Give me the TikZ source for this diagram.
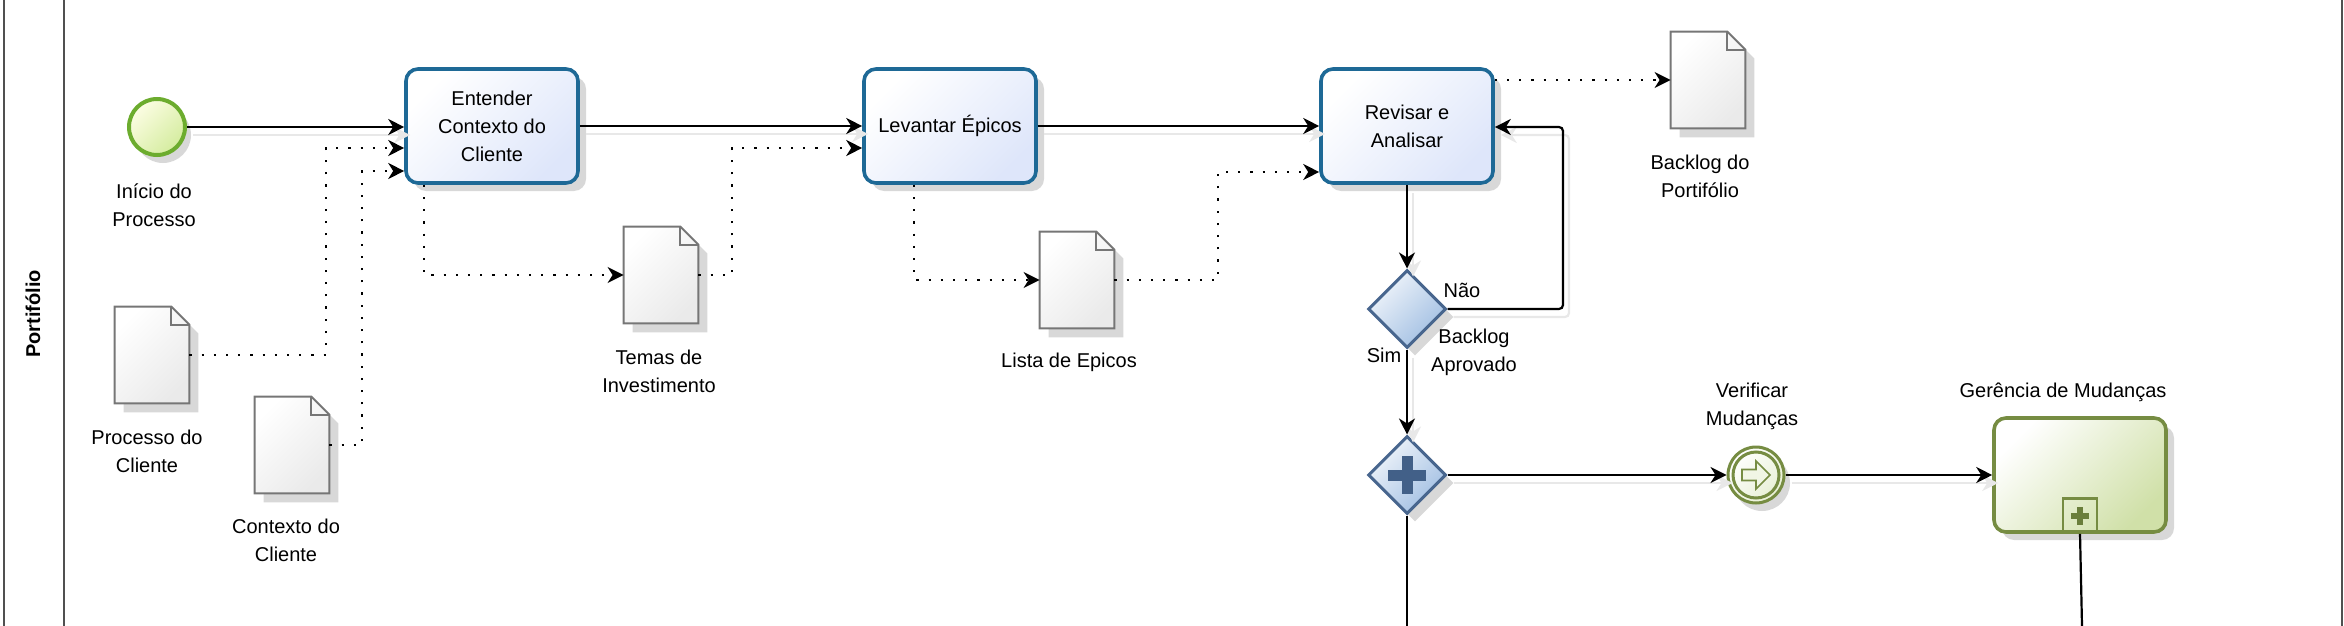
\documentclass[tikz,border=0pt]{standalone}
\usepackage{fontspec}
\setmainfont{Liberation Sans}
\usepackage{tikz}
\usetikzlibrary{arrows.meta}
\usetikzlibrary{positioning}
\usetikzlibrary{shapes.geometric}
\usetikzlibrary{shadows}

\definecolor{taskblue}{RGB}{30,105,150}
\definecolor{taskfill}{RGB}{222,230,250}
\definecolor{startgreen}{RGB}{108,172,46}
\definecolor{startfill}{RGB}{212,236,158}
\definecolor{startpale}{RGB}{252,253,228}
\definecolor{gateblue}{RGB}{72,102,142}
\definecolor{gatefill}{RGB}{160,190,226}
\definecolor{plusblue}{RGB}{66,96,136}
\definecolor{subgreen}{RGB}{118,140,66}
\definecolor{subfill}{RGB}{208,224,168}
\definecolor{docgray}{RGB}{118,118,118}
\definecolor{docfill}{RGB}{234,234,234}
\definecolor{shadowgray}{RGB}{216,216,216}
\definecolor{lanegray}{RGB}{80,80,80}

\tikzset{
  task/.style={draw=taskblue, line width=1.8pt, rounded corners=6pt, minimum width=86pt, minimum height=57pt, align=center, inner sep=2pt, top color=white, bottom color=taskfill, shading angle=45, drop shadow={shadow xshift=4pt, shadow yshift=-4pt, fill=shadowgray, opacity=1}},
  subproc/.style={draw=subgreen, line width=1.8pt, rounded corners=6pt, minimum width=86pt, minimum height=57pt, top color=white, bottom color=subfill, shading angle=45, drop shadow={shadow xshift=4pt, shadow yshift=-4pt, fill=shadowgray, opacity=1}},
  startev/.style={circle, draw=startgreen, line width=2pt, minimum size=28pt, inner sep=0, top color=startpale, bottom color=startfill, shading angle=45, drop shadow={shadow xshift=3pt, shadow yshift=-4pt, fill=shadowgray, opacity=1}},
  inter/.style={circle, draw=subgreen, line width=1.5pt, minimum size=28pt, inner sep=0, top color=white, bottom color=subfill!50!white, shading angle=45, drop shadow={shadow xshift=3pt, shadow yshift=-4pt, fill=shadowgray, opacity=1}},
  gate/.style={diamond, draw=gateblue, line width=1.5pt, minimum width=39pt, minimum height=39pt, inner sep=0, top color=white!85!gatefill, bottom color=gatefill, shading angle=45, drop shadow={shadow xshift=4pt, shadow yshift=-4pt, fill=shadowgray, opacity=1}},
  docum/.style={minimum width=37pt, minimum height=48pt, inner sep=0},
  lbl/.style={align=center, inner sep=0},
  flow/.style={->, line width=1.1pt, preaction={draw=black!9, line width=1.1pt, transform canvas={shift={(3pt,-4pt)}}}},
  assoc/.style={->, line width=1.1pt, dash pattern=on 1.1pt off 5pt}
}

\begin{document}
\begin{tikzpicture}[x=0.5pt, y=-0.5pt, >={Stealth[length=8pt, width=8pt, inset=2.5pt]}, font=\fontsize{10}{14}\selectfont]
    \useasboundingbox (0,0) rectangle (2344,626);

    \draw[lanegray, line width=1pt] (4,0) -- (4,626);
    \draw[lanegray, line width=1pt] (64,0) -- (64,626);
    \draw[lanegray, line width=1pt] (2342,0) -- (2342,626);
    \node[rotate=90, font=\fontsize{10}{14}\selectfont\bfseries] (lane) at (33,314) {Portifólio};

    \node[startev] (start) at (157,127) {};
    \node[task] (entender) at (492,126) {Entender\\Contexto do\\Cliente};
    \node[task] (levantar) at (950,126) {Levantar Épicos};
    \node[task] (revisar) at (1407,126) {Revisar e\\Analisar};
    \node[gate] (aprovado) at (1407,309) {};
    \node[gate] (paralelo) at (1407,475) {};
    \node[inter] (verificar) at (1756,475) {};
    \node[subproc] (gerencia) at (2080,475) {};

    \node[docum] (processo) at (152,355) {};
    \node[docum] (contexto) at (292,445) {};
    \node[docum] (temas) at (661,275) {};
    \node[docum] (lista) at (1077,280) {};
    \node[docum] (backlog) at (1708,80) {};

    \foreach \d in {processo,contexto,temas,lista,backlog} {
        \fill[shadowgray, transform canvas={shift={(4.5pt,-4.5pt)}}] (\d.south west) -- (\d.north west) -- ([xshift=-9pt]\d.north east) -- ([yshift=-9pt]\d.north east) -- (\d.south east) -- cycle;
        \shade[draw=docgray, line width=1pt, top color=white, bottom color=docfill, shading angle=45] (\d.south west) -- (\d.north west) -- ([xshift=-9pt]\d.north east) -- ([yshift=-9pt]\d.north east) -- (\d.south east) -- cycle;
        \draw[docgray, line width=1pt] ([xshift=-9pt]\d.north east) |- ([yshift=-9pt]\d.north east);
    }

    \fill[plusblue] ([shift={(-9.5pt,-2.75pt)}]paralelo.center) rectangle ([shift={(9.5pt,2.75pt)}]paralelo.center);
    \fill[plusblue] ([shift={(-2.75pt,-9.5pt)}]paralelo.center) rectangle ([shift={(2.75pt,9.5pt)}]paralelo.center);

    \draw[subgreen, line width=1.5pt] (verificar) circle[radius=11.5pt];
    \draw[subgreen, line width=0.8pt, fill=white!70!subfill] ([shift={(-7pt,-2.75pt)}]verificar.center) -- ([shift={(0pt,-2.75pt)}]verificar.center) -- ([shift={(0pt,-7pt)}]verificar.center) -- ([shift={(7pt,0pt)}]verificar.center) -- ([shift={(0pt,7pt)}]verificar.center) -- ([shift={(0pt,2.75pt)}]verificar.center) -- ([shift={(-7pt,2.75pt)}]verificar.center) -- cycle;

    \node[draw=subgreen, line width=1.3pt, minimum size=17pt, inner sep=0, anchor=south] (marcador) at (gerencia.south) {};
    \fill[subgreen!90!black] ([shift={(-4.5pt,-1.5pt)}]marcador.center) rectangle ([shift={(4.5pt,1.5pt)}]marcador.center);
    \fill[subgreen!90!black] ([shift={(-1.5pt,-4.5pt)}]marcador.center) rectangle ([shift={(1.5pt,4.5pt)}]marcador.center);

    \node[lbl] (startlbl) at (154,205) {Início do\\Processo};
    \node[lbl] (processolbl) at (147,451) {Processo do\\Cliente};
    \node[lbl] (contextolbl) at (286,540) {Contexto do\\Cliente};
    \node[lbl] (temaslbl) at (659,371) {Temas de\\Investimento};
    \node[lbl] (listalbl) at (1069,362) {Lista de Epicos};
    \node[lbl] (backloglbl) at (1700,176) {Backlog do\\Portifólio};
    \node[lbl] (naolbl) at (1462,290) {Não};
    \node[lbl] (aprovadolbl) at (1474,352) {Backlog\\Aprovado};
    \node[lbl] (simlbl) at (1384,355) {Sim};
    \node[lbl] (verificarlbl) at (1752,406) {Verificar\\Mudanças};
    \node[lbl] (gerencialbl) at (2063,392) {Gerência de Mudanças};

    \coordinate (volta) at (1563,127);
    \coordinate (fim1) at (1407,626);
    \coordinate (fim2) at (2082,626);
    \coordinate (c1) at (326,148);
    \coordinate (c2) at (362,171);
    \coordinate (c3) at (424,275);
    \coordinate (c4) at (732,148);
    \coordinate (c5) at (914,280);
    \coordinate (c6) at (1218,172);

    \draw[flow] (start.east) -- (start.east -| entender.west);
    \draw[flow] (entender) -- (levantar);
    \draw[flow] (levantar) -- (revisar);
    \draw[flow] (revisar) -- (aprovado);
    \draw[flow, rounded corners=2pt] (aprovado.east) -| (volta) -- (volta -| revisar.east);
    \draw[flow] (aprovado) -- (paralelo);
    \draw[flow] (paralelo) -- (verificar);
    \draw[flow] (verificar) -- (gerencia);
    \draw[line width=1.1pt] (paralelo.south) -- (fim1);
    \draw[line width=1.1pt] (marcador.south) -- (fim2);

    \draw[assoc] (processo.east) -| (c1) -- (c1 -| entender.west);
    \draw[assoc] (contexto.east) -| (c2) -- (c2 -| entender.west);
    \draw[assoc] (c3 |- entender.south) |- (temas.west);
    \draw[assoc] (temas.east) -| (c4) -- (c4 -| levantar.west);
    \draw[assoc] (c5 |- levantar.south) |- (lista.west);
    \draw[assoc] (lista.east) -| (c6) -- (c6 -| revisar.west);
    \draw[assoc] (backlog.west -| revisar.east) -- (backlog.west);
\end{tikzpicture}
\end{document}
